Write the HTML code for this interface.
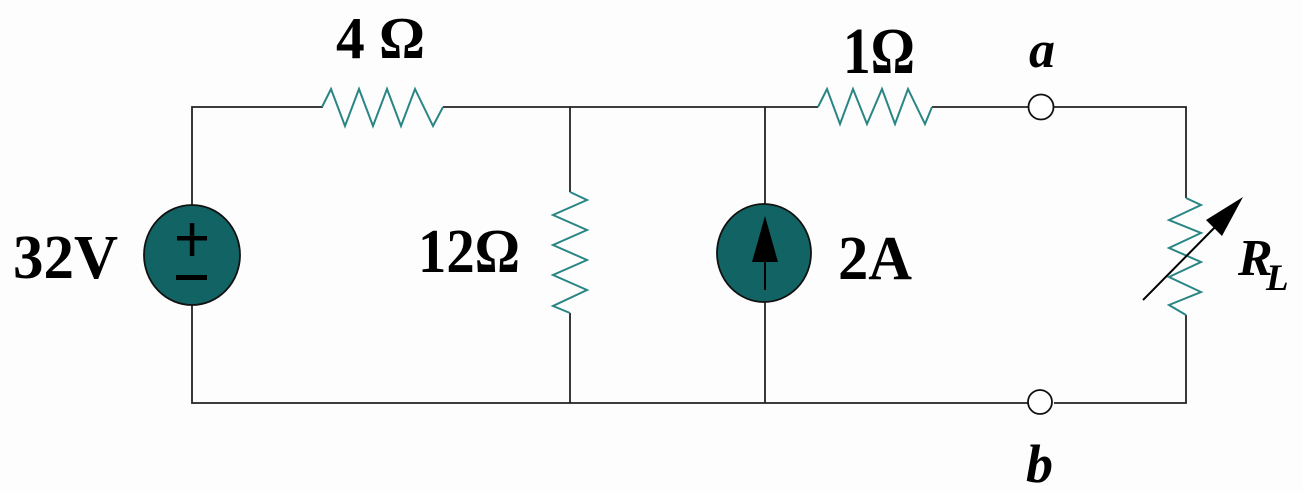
<!DOCTYPE html>
<html>
<head>
<meta charset="utf-8">
<style>
html,body{margin:0;padding:0;background:#fff;}
svg{display:block;}
text{font-family:"Liberation Serif",serif;font-weight:bold;fill:#000;}
.it{font-style:italic;}
</style>
</head>
<body>
<svg width="1303" height="492" viewBox="0 0 1303 492" xmlns="http://www.w3.org/2000/svg">
<rect width="1303" height="492" fill="#fdfdfd"/>
<g stroke="#222" stroke-width="1.8" fill="none">
  <!-- top wire -->
  <polyline points="192,205 192,107 323,107"/>
  <line x1="443" y1="107" x2="818" y2="107"/>
  <line x1="932" y1="107" x2="1028" y2="107"/>
  <polyline points="1054,107 1186,107 1186,198"/>
  <!-- bottom wire -->
  <polyline points="192,305 192,403 1028,403"/>
  <polyline points="1054,403 1186,403 1186,315"/>
  <!-- 12 ohm branch -->
  <line x1="570" y1="107" x2="570" y2="192"/>
  <line x1="570" y1="313" x2="570" y2="403"/>
  <!-- current source branch -->
  <line x1="765" y1="107" x2="765" y2="204"/>
  <line x1="765" y1="302" x2="765" y2="403"/>
</g>
<!-- resistors -->
<g stroke="#2a8585" stroke-width="2" fill="none" stroke-linejoin="miter">
  <polyline points="322,107 331,89 345,126 359,89 373,126 387,89 401,126 415,89 433,126 443,107"/>
  <polyline points="818,107 827,89 840,124 853,89 867,124 882,89 895,124 908,89 925,124 932,107"/>
  <polyline points="570,192 587,200 553,215 587,230 553,245 587,260 553,275 587,290 553,306 570,313"/>
  <polyline points="1186,198 1201,205 1169,220 1201,233 1169,248 1201,262 1169,277 1201,292 1169,305 1186,315"/>
</g>
<!-- voltage source -->
<ellipse cx="192" cy="255" rx="48" ry="50" fill="#126464" stroke="#111" stroke-width="1.8"/>
<rect x="177" y="236" width="30" height="4.5" fill="#000"/>
<rect x="189.8" y="223" width="4.5" height="33" fill="#000"/>
<rect x="176" y="275" width="31" height="5" fill="#000"/>
<!-- current source -->
<ellipse cx="764" cy="253" rx="47" ry="49" fill="#126464" stroke="#111" stroke-width="1.8"/>
<line x1="765" y1="255" x2="765" y2="290" stroke="#000" stroke-width="2"/>
<polygon points="765,216 752,262 778,262" fill="#000"/>
<!-- variable arrow -->
<line x1="1143" y1="300" x2="1222" y2="220" stroke="#000" stroke-width="2"/>
<polygon points="1243,197 1206,220 1222,236" fill="#000"/>
<!-- terminals -->
<circle cx="1041" cy="107" r="12.5" fill="#fff" stroke="#111" stroke-width="1.8"/>
<circle cx="1040" cy="402" r="12" fill="#fff" stroke="#111" stroke-width="1.8"/>
<!-- labels -->
<text x="336" y="58" font-size="59" textLength="89" lengthAdjust="spacingAndGlyphs">4 Ω</text>
<text x="843" y="73" font-size="66" textLength="72" lengthAdjust="spacingAndGlyphs">1Ω</text>
<text class="it" x="1029" y="67" font-size="52">a</text>
<text x="13" y="278" font-size="62" textLength="105" lengthAdjust="spacingAndGlyphs">32V</text>
<text x="418" y="272" font-size="62" textLength="102" lengthAdjust="spacingAndGlyphs">12Ω</text>
<text x="838" y="279" font-size="62" textLength="74" lengthAdjust="spacingAndGlyphs">2A</text>
<text class="it" x="1238" y="275" font-size="52">R</text>
<text class="it" x="1266" y="290" font-size="37">L</text>
<text class="it" x="1026" y="482" font-size="54">b</text>
</svg>
</body>
</html>
